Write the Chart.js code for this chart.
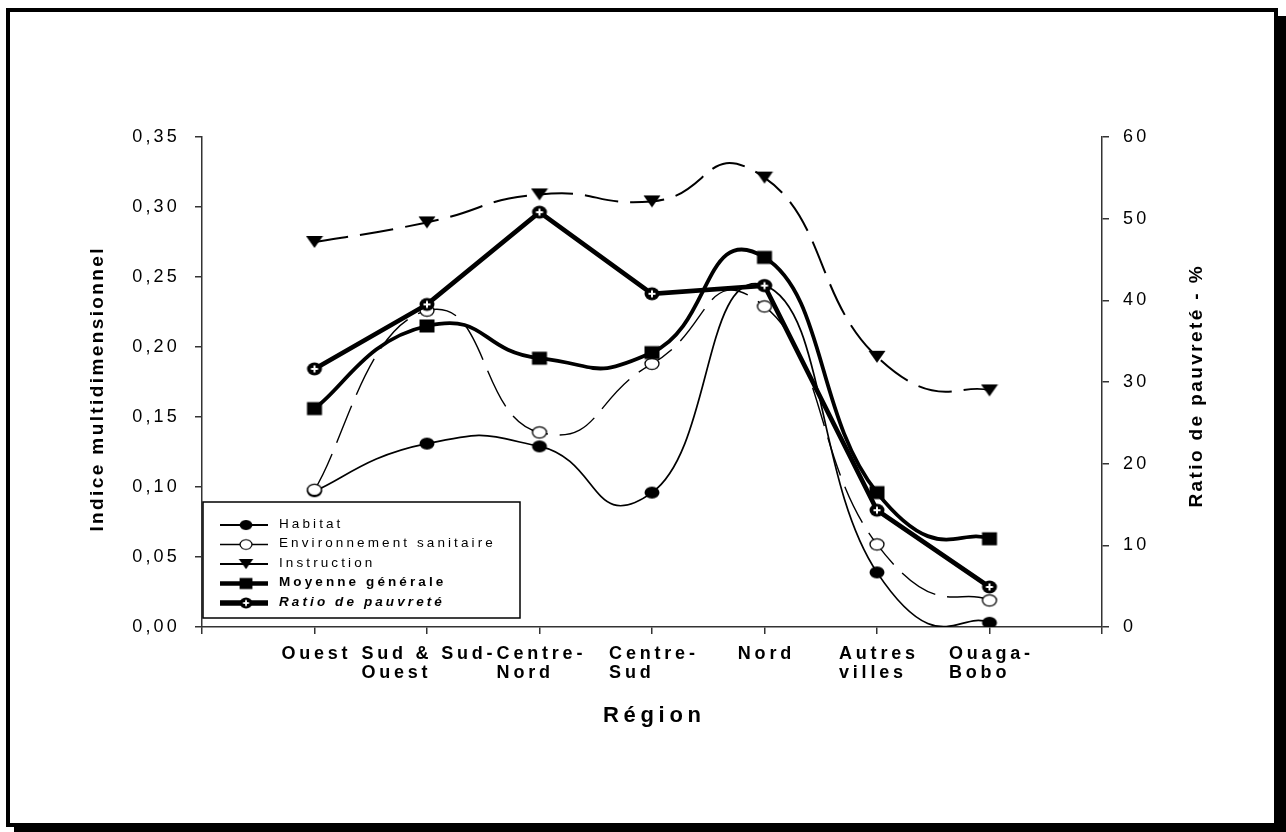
<!DOCTYPE html>
<html lang="fr">
<head>
<meta charset="utf-8">
<title>Indice multidimensionnel et ratio de pauvreté par région</title>
<script src="https://cdn.jsdelivr.net/npm/chart.js@4.4.1/dist/chart.umd.min.js"></script>
<style>
  html, body { margin: 0; padding: 0; background: #fff; }
  #stage { position: relative; width: 1286px; height: 832px; overflow: hidden; }
  #frame { position: absolute; left: 6px; top: 8px; width: 1264px; height: 811px;
           border: 4px solid #000; box-shadow: 8px 8px 0 #000; background: #fff; }
  #chart { position: absolute; left: 0; top: 0; }
</style>
</head>
<body>
<div id="stage">
  <div id="frame"></div>
  <canvas id="chart" width="1286" height="832"></canvas>
</div>
<script>
const FONT = "'Liberation Sans', Arial, Helvetica, sans-serif";

// Régions (abscisse)
const regions = [
  'Ouest',
  ['Sud & Sud-', 'Ouest'],
  ['Centre-', 'Nord'],
  ['Centre-', 'Sud'],
  'Nord',
  ['Autres', 'villes'],
  ['Ouaga-', 'Bobo']
];

// Indice multidimensionnel par dimension (axe de gauche)
const habitat        = [0.097, 0.131, 0.129, 0.096, 0.244, 0.039, 0.003];
const environnement  = [0.098, 0.226, 0.139, 0.188, 0.229, 0.059, 0.019];
const instruction    = [0.275, 0.289, 0.309, 0.304, 0.321, 0.193, 0.169];
const moyenne        = [0.156, 0.215, 0.192, 0.196, 0.264, 0.096, 0.063];

// Ratio de pauvreté en % (axe de droite)
const ratioPauvrete  = [31.6, 39.5, 50.8, 40.8, 41.8, 14.3, 4.9];

// Graduations
const yTickLabels  = ['0,00', '0,05', '0,10', '0,15', '0,20', '0,25', '0,30', '0,35'];
const y2TickLabels = ['0', '10', '20', '30', '40', '50', '60'];

const yTitle  = 'Indice multidimensionnel';
const y2Title = 'Ratio de pauvreté - %';
const xTitle  = 'Région';

// Bézier smoothing factor (Catmull-Rom style control points)
const SMOOTHING = 0.27;

// Marker images
function marker(kind) {
  const c = document.createElement('canvas');
  c.width = 18; c.height = 16;
  const g = c.getContext('2d');
  const cx = 9, cy = 8;
  g.fillStyle = '#000';
  g.strokeStyle = '#000';
  if (kind === 'dot') {
    g.beginPath(); g.ellipse(cx, cy, 7.5, 6, 0, 0, Math.PI * 2); g.fill();
  } else if (kind === 'ring') {
    g.beginPath(); g.ellipse(cx, cy, 7, 5.6, 0, 0, Math.PI * 2);
    g.fillStyle = '#fff'; g.fill(); g.lineWidth = 1.3; g.stroke();
  } else if (kind === 'tri') {
    g.beginPath(); g.moveTo(cx - 8.5, cy - 6); g.lineTo(cx + 8.5, cy - 6); g.lineTo(cx, cy + 6);
    g.closePath(); g.fill();
  } else if (kind === 'square') {
    g.fillRect(cx - 7.5, cy - 6.5, 15, 13);
  } else if (kind === 'cross') {
    g.beginPath(); g.ellipse(cx, cy, 7.5, 6.5, 0, 0, Math.PI * 2); g.fill();
    g.fillStyle = '#fff';
    g.fillRect(cx - 3.5, cy - 1, 7, 2);
    g.fillRect(cx - 1, cy - 3.5, 2, 7);
  }
  return c;
}

const toPoints = arr => arr.map((v, i) => ({ x: i + 1, y: v }));

const lineClip = { left: 20, right: 20, top: 20, bottom: 0 };

const datasets = [
  { label: 'Habitat', data: toPoints(habitat), yAxisID: 'y',
    borderColor: '#000', borderWidth: 1.7, tension: 0.4,
    pointStyle: marker('dot'), pointRadius: 7, order: 5, clip: lineClip,
    legendWidth: 2.2, legendFont: '' },
  { label: 'Environnement sanitaire', data: toPoints(environnement), yAxisID: 'y',
    borderColor: '#000', borderWidth: 1.4, borderDash: [40, 12], tension: 0.4,
    pointStyle: marker('ring'), pointRadius: 7, order: 4, clip: lineClip,
    legendWidth: 1.5, legendFont: '' },
  { label: 'Instruction', data: toPoints(instruction), yAxisID: 'y',
    borderColor: '#000', borderWidth: 2, borderDash: [34, 12], tension: 0.4,
    pointStyle: marker('tri'), pointRadius: 7, order: 3, clip: lineClip,
    legendWidth: 2, legendFont: '' },
  { label: 'Moyenne générale', data: toPoints(moyenne), yAxisID: 'y',
    borderColor: '#000', borderWidth: 3.8, tension: 0.4,
    pointStyle: marker('square'), pointRadius: 7, order: 2, clip: lineClip,
    legendWidth: 4.6, legendFont: 'bold' },
  { label: 'Ratio de pauvreté', data: toPoints(ratioPauvrete), yAxisID: 'y2',
    borderColor: '#000', borderWidth: 4.7, tension: 0,
    pointStyle: marker('cross'), pointRadius: 7, order: 1, clip: lineClip,
    legendWidth: 5.6, legendFont: 'italic bold' }
];

// Replaces the library's spline control points with Catmull-Rom style ones
const curvePlugin = {
  id: 'curve',
  beforeDatasetDraw(chart, args) {
    const ds = chart.data.datasets[args.index];
    const line = args.meta.dataset;
    const pts = args.meta.data;
    if (!ds.tension || !line || pts.length < 2) return;
    const n = pts.length;
    for (let i = 0; i < n; i++) {
      const a = pts[Math.max(0, i - 1)], b = pts[Math.min(n - 1, i + 1)], p = pts[i];
      const dx = (b.x - a.x) * SMOOTHING, dy = (b.y - a.y) * SMOOTHING;
      p.cp1x = p.x - dx; p.cp1y = p.y - dy;
      p.cp2x = p.x + dx; p.cp2y = p.y + dy;
    }
    line._pointsUpdated = true;
    line._path = undefined;
  }
};

// Category labels, axis titles and legend box
const decorPlugin = {
  id: 'decor',
  beforeDraw(chart) {
    chart.ctx.letterSpacing = '3.2px';
  },
  afterDraw(chart) {
    const ctx = chart.ctx;
    const area = chart.chartArea;
    const xs = chart.scales.x;
    ctx.save();
    ctx.fillStyle = '#000';

    // category labels
    ctx.font = `bold 18px ${FONT}`;
    ctx.letterSpacing = '3.8px';
    ctx.textAlign = 'left';
    ctx.textBaseline = 'alphabetic';
    regions.forEach((lab, i) => {
      const lines = Array.isArray(lab) ? lab : [lab];
      const w = Math.max(...lines.map(s => ctx.measureText(s).width)) - 3.8;
      const px = xs.getPixelForValue(i + 1);
      lines.forEach((s, j) => ctx.fillText(s, px - w / 2, area.bottom + 32 + j * 19));
    });

    // x title
    ctx.font = `bold 22px ${FONT}`;
    ctx.letterSpacing = '4.7px';
    ctx.textAlign = 'center';
    ctx.fillText(xTitle, (area.left + area.right) / 2 + 2.3, area.bottom + 95);

    // y titles, reading upward
    ctx.font = `bold 19px ${FONT}`;
    ctx.letterSpacing = '2.4px';
    ctx.textBaseline = 'middle';
    [[yTitle, area.left - 104.6, 390], [y2Title, area.right + 94.4, 387]].forEach(([t, px, py]) => {
      ctx.save();
      ctx.translate(px, py);
      ctx.rotate(-Math.PI / 2);
      ctx.fillText(t, 1.2, 0);
      ctx.restore();
    });

    // legend
    const bx = area.left + 1, by = area.bottom - 125, bw = 317, bh = 116;
    ctx.fillStyle = '#fff';
    ctx.fillRect(bx, by, bw, bh);
    ctx.strokeStyle = '#000';
    ctx.lineWidth = 1.5;
    ctx.strokeRect(bx, by, bw, bh);
    ctx.textAlign = 'left';
    ctx.letterSpacing = '3.1px';
    chart.data.datasets.forEach((ds, i) => {
      const ry = by + 23 + i * 19.5;
      ctx.beginPath();
      ctx.moveTo(bx + 17, ry);
      ctx.lineTo(bx + 65, ry);
      ctx.lineWidth = ds.legendWidth;
      ctx.strokeStyle = '#000';
      ctx.stroke();
      const img = ds.pointStyle, s = 0.85;
      ctx.drawImage(img, bx + 43 - img.width * s / 2, ry - img.height * s / 2, img.width * s, img.height * s);
      ctx.fillStyle = '#000';
      ctx.font = `${ds.legendFont} 13.5px ${FONT}`.trim();
      ctx.fillText(ds.label, bx + 76, ry - 1);
    });
    ctx.restore();
  }
};

Chart.defaults.color = '#000';
Chart.defaults.font.family = FONT;

const axisLine = { display: true, color: '#333', width: 1.5 };
const tickMarks = { display: true, drawOnChartArea: false, drawTicks: true, tickLength: 7, color: '#333', lineWidth: 1.5 };

new Chart(document.getElementById('chart'), {
  type: 'line',
  data: { datasets },
  options: {
    responsive: false,
    animation: false,
    events: [],
    layout: { padding: { top: 137, left: 0, right: 0, bottom: 0 } },
    plugins: { legend: { display: false }, tooltip: { enabled: false } },
    scales: {
      x: {
        type: 'linear', min: 0, max: 8,
        grid: tickMarks, border: axisLine,
        ticks: { stepSize: 1, display: false },
        afterFit(s) { s.height = 205; }
      },
      y: {
        position: 'left', min: 0, max: 0.35,
        grid: tickMarks, border: axisLine,
        ticks: { stepSize: 0.05, padding: 15, font: { size: 18 },
                 callback: (v, i) => yTickLabels[i] },
        afterFit(s) { s.width = 202; }
      },
      y2: {
        position: 'right', min: 0, max: 60,
        grid: tickMarks, border: axisLine,
        ticks: { stepSize: 10, padding: 14, font: { size: 18 },
                 callback: (v, i) => y2TickLabels[i] },
        afterFit(s) { s.width = 184; }
      }
    }
  },
  plugins: [curvePlugin, decorPlugin]
});
</script>
</body>
</html>
